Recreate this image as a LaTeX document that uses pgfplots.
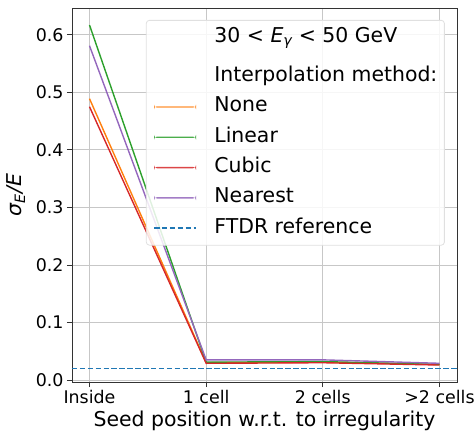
\documentclass[border=0pt]{standalone}
\usepackage{fontspec}
\setmainfont{DejaVu Sans}
\usepackage{pgfplots}
\pgfplotsset{compat=1.18}
\definecolor{tabblue}{HTML}{1F77B4}
\definecolor{taborange}{HTML}{FF7F0E}
\definecolor{tabgreen}{HTML}{2CA02C}
\definecolor{tabred}{HTML}{D62728}
\definecolor{tabpurple}{HTML}{9467BD}
\pgfplotsset{
  leglin/.style={legend image code/.code={\fill[fill=#1, draw=none] (0bp,-0.7bp) rectangle (42bp,0.7bp); \path (0bp,0bp) (60bp,0bp);}},
  legdash/.style={legend image code/.code={\draw[draw=#1, line width=1.4bp, dash pattern=on 5.5bp off 2.4bp] (0bp,0bp) -- (42bp,0bp); \path (0bp,0bp) (60bp,0bp);}},
}
\begin{document}
\begin{tikzpicture}
\begin{axis}[
  name=ax,
  scale only axis,
  width=385bp, height=374bp,
  xmin=-0.15, xmax=3.15,
  ymin=-0.0035, ymax=0.6466,
  xtick={0,1,2,3},
  xticklabels={Inside,1 cell,2 cells,>2 cells},
  ytick={0,0.1,0.2,0.3,0.4,0.5,0.6},
  yticklabel style={/pgf/number format/fixed,/pgf/number format/fixed zerofill,/pgf/number format/precision=1},
  /pgf/number format/assume math mode=true,
  tick label style={font=\fontsize{17.5}{20}\selectfont},
  label style={font=\fontsize{20.5}{24}\selectfont},
  xlabel={Seed position w.r.t. to irregularity},
  ylabel={{\itshape σ}\textsubscript{\itshape E}{\itshape /E}},
  xlabel style={at={(axis description cs:0.5,0)}, anchor=center, yshift=-39bp},
  ylabel style={at={(axis description cs:-0.1455,0.5)}, anchor=center},
  grid=major,
  major grid style={black!22, line width=0.8bp},
  axis line style={black!80, line width=0.8bp},
  tick style={black!80, line width=0.8bp},
  tick align=outside,
  tick pos=left,
  major tick length=5bp,
  legend cell align=left,
  legend style={at={(rel axis cs:0.192,0.968)}, anchor=north west,
    draw=black!12, line width=0.8bp, fill=white, fill opacity=0.85, text opacity=1,
    rounded corners=3bp, font=\fontsize{20.5}{24}\selectfont,
    row sep=10.3bp, inner xsep=7bp, inner ysep=7bp,
    nodes={inner sep=0pt, text height=15bp, text depth=5bp}},
]
\addplot[taborange, line width=1.4bp, forget plot] coordinates {(0,0.489) (1,0.030) (2,0.031) (3,0.027)};
\addplot[tabgreen, line width=1.4bp, forget plot] coordinates {(0,0.617) (1,0.031) (2,0.032) (3,0.027)};
\addplot[tabred, line width=1.4bp, forget plot] coordinates {(0,0.475) (1,0.029) (2,0.030) (3,0.026)};
\addplot[tabpurple, line width=1.4bp, forget plot] coordinates {(0,0.581) (1,0.035) (2,0.035) (3,0.029)};
\addplot[tabblue, line width=1.4bp, dash pattern=on 5.5bp off 2.4bp, forget plot] coordinates {(-0.15,0.0196) (3.15,0.0196)};
\addlegendimage{empty legend}
\addlegendentry[text depth=14bp]{30 < {\itshape E}\textsubscript{\itshape γ} < 50 GeV}
\addlegendimage{empty legend}
\addlegendentry{Interpolation method:}
\addlegendimage{leglin=taborange}
\addlegendentry{None}
\addlegendimage{leglin=tabgreen}
\addlegendentry{Linear}
\addlegendimage{leglin=tabred}
\addlegendentry{Cubic}
\addlegendimage{leglin=tabpurple}
\addlegendentry{Nearest}
\addlegendimage{legdash=tabblue}
\addlegendentry{FTDR reference}
\end{axis}
\pgfresetboundingbox
\path ([xshift=-72bp,yshift=-51bp]ax.south west) rectangle ([xshift=18bp,yshift=8bp]ax.north east);
\end{tikzpicture}
\end{document}
